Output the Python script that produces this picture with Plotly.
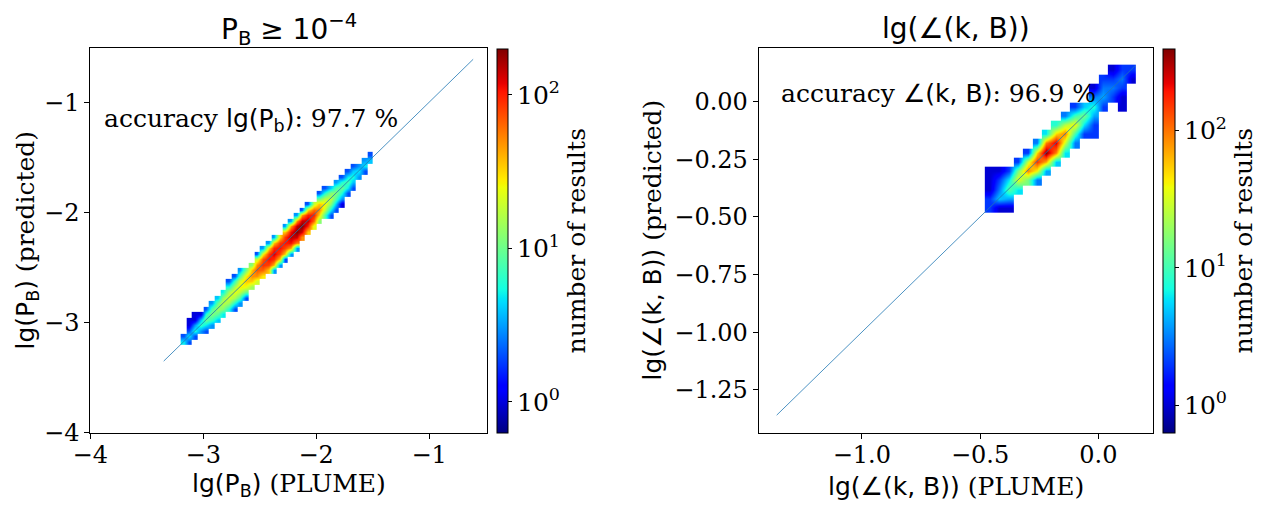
import numpy as np
import plotly.graph_objects as go

# P_B panel: 2d histogram.
# column centres (x bins, 0.05 wide) and counts in the bins at y offsets -3..+3 bins from the diagonal
pb_xc = [-3.175, -3.125, -3.075, -3.025, -2.975, -2.925, -2.875, -2.825, -2.775, -2.725,
         -2.675, -2.625, -2.575, -2.525, -2.475, -2.425, -2.375, -2.325, -2.275, -2.225,
         -2.175, -2.125, -2.075, -2.025, -1.975, -1.925, -1.875, -1.825, -1.775, -1.725,
         -1.675, -1.625, -1.575, -1.525]
pb_band = [
    [None, None, None, 5, 2, None, None],
    [None, None, 2, 5, 2, 1, 1],
    [None, None, 2, 6, 3, 1, 1],
    [None, None, 3, 7, 4, 1, None],
    [None, 2, 5, 10, 6, 2, None],
    [None, 3, 7, 12, 8, 3, None],
    [None, 4, 9, 15, 10, 4, None],
    [None, 5, 12, 18, 13, 5, None],
    [None, 6, 14, 22, 15, 6, 2],
    [2, 6, 15, 24, 16, 7, 2],
    [3, 8, 18, 28, 20, 8, 3],
    [2, 10, 24, 36, 26, 10, None],
    [None, 14, 35, 50, 36, 12, None],
    [None, 20, 50, 70, 50, 18, 2],
    [None, 28, 65, 90, 70, 25, 3],
    [None, 35, 80, 110, 85, 30, 3],
    [3, 40, 95, 130, 95, 35, 3],
    [3, 35, 80, 110, 85, 30, None],
    [2, 35, 80, 105, 85, 35, 3],
    [3, 45, 110, 150, 115, 45, 3],
    [3, 55, 140, 195, 145, 50, 3],
    [None, 50, 135, 200, 140, 45, 2],
    [None, 35, 100, 150, 100, 30, 2],
    [None, 22, 65, 100, 65, 18, None],
    [None, 12, 35, 55, 35, 10, 2],
    [None, 8, 18, 28, 18, 6, 2],
    [2, 5, 12, 18, 12, 4, None],
    [2, 4, 8, 12, 8, 3, None],
    [1, 3, 6, 10, 6, 2, None],
    [None, 2, 5, 8, 5, 2, None],
    [None, 2, 4, 6, 4, 2, None],
    [None, None, 3, 5, 3, None, None],
    [None, None, 2, 5, 3, None, None],
    [None, None, None, 4, 2, None, None],
]
pb_offsets = [-3, -2, -1, 0, 1, 2, 3]
pb_binw = 0.05

# angle panel: cells (bin centre x, bin centre y, number of results)
ang_x = [-0.46, -0.46, -0.46, -0.46, -0.46,
         -0.42, -0.42, -0.42, -0.42, -0.42,
         -0.38, -0.38, -0.38, -0.38, -0.38,
         -0.34, -0.34, -0.34, -0.34,
         -0.30, -0.30, -0.30, -0.30,
         -0.26, -0.26, -0.26, -0.26, -0.26,
         -0.22, -0.22, -0.22, -0.22, -0.22,
         -0.18, -0.18, -0.18, -0.18, -0.18,
         -0.14, -0.14, -0.14, -0.14, -0.14,
         -0.10, -0.10, -0.10, -0.10, -0.10,
         -0.06, -0.06, -0.06, -0.06,
         -0.02, -0.02, -0.02, -0.02, -0.02, -0.02,
         0.02, 0.02, 0.02, 0.02,
         0.06, 0.06, 0.06, 0.06,
         0.10, 0.10, 0.10, 0.10, 0.10,
         0.14, 0.14]
ang_y = [-0.46, -0.42, -0.38, -0.34, -0.30,
         -0.46, -0.42, -0.38, -0.34, -0.30,
         -0.46, -0.42, -0.38, -0.34, -0.30,
         -0.38, -0.34, -0.30, -0.26,
         -0.34, -0.30, -0.26, -0.22,
         -0.34, -0.30, -0.26, -0.22, -0.18,
         -0.30, -0.26, -0.22, -0.18, -0.14,
         -0.26, -0.22, -0.18, -0.14, -0.10,
         -0.22, -0.18, -0.14, -0.10, -0.06,
         -0.18, -0.14, -0.10, -0.06, -0.02,
         -0.14, -0.10, -0.06, -0.02,
         -0.14, -0.10, -0.06, -0.02, 0.02, 0.06,
         -0.02, 0.02, 0.06, 0.10,
         0.02, 0.06, 0.10, 0.14,
         -0.02, 0.02, 0.06, 0.10, 0.14,
         0.10, 0.14]
ang_n = [2, 2, 1, 1, 1,
         1, 5, 3, 2, 1,
         1, 4, 12, 6, 2,
         6, 35, 15, 2,
         15, 90, 30, 2,
         3, 40, 160, 50, 3,
         4, 70, 380, 90, 6,
         5, 90, 250, 50, 8,
         6, 30, 90, 25, 3,
         3, 10, 40, 10, 2,
         2, 6, 15, 5,
         2, 2, 4, 8, 3, 1,
         2, 4, 3, 2,
         2, 3, 2, 1,
         1, 1, 2, 3, 2,
         1, 2]

# identity line ends
pb_line = [-3.35, -0.61]
ang_line = [-1.36, 0.155]

pb_ticks = [-4, -3, -2, -1]
ang_xticks = [-1.0, -0.5, 0.0]
ang_yticks = [0.0, -0.25, -0.5, -0.75, -1.0, -1.25]
cb_ticks = [0, 1, 2]
cb_labels = ["10<sup>0</sup>", "10<sup>1</sup>", "10<sup>2</sup>"]

# the page body has an 8px margin, so the figure is shifted by that much
OFF = 8
W, H = 1267 - OFF, 509 - 2 * OFF
SERIF = "DejaVu Serif"
SANS = "DejaVu Sans"

# matplotlib "jet"
jet = [
    [0.0, "rgb(0,0,128)"], [0.11, "rgb(0,0,255)"], [0.125, "rgb(0,0,255)"],
    [0.34, "rgb(0,219,255)"], [0.35, "rgb(0,229,247)"], [0.375, "rgb(20,255,226)"],
    [0.5, "rgb(124,255,124)"], [0.64, "rgb(239,255,8)"], [0.65, "rgb(247,245,0)"],
    [0.66, "rgb(255,236,0)"], [0.89, "rgb(255,19,0)"], [0.91, "rgb(232,0,0)"],
    [1.0, "rgb(128,0,0)"],
]

# unpack the band table into histogram cells
pb_x, pb_y, pb_n = [], [], []
for xc, row in zip(pb_xc, pb_band):
    for d, n in zip(pb_offsets, row):
        if n is None:
            continue
        pb_x.append(xc)
        pb_y.append(round(xc + d * pb_binw, 3))
        pb_n.append(n)


def px(x):
    return (x - OFF) / W


def py(y):
    return 1 - (y - OFF) / H


def cbar(x0, width):
    return dict(
        x=px(x0), xanchor="left", y=py(432.7), yanchor="bottom",
        len=(432.7 - 48.3) / H, lenmode="fraction",
        thickness=width, thicknessmode="pixels",
        xpad=0, ypad=0, outlinecolor="black", outlinewidth=1,
        tickvals=cb_ticks, ticktext=cb_labels,
        ticks="outside", ticklen=4, tickcolor="black",
        tickfont=dict(family=SERIF, size=25, color="black"),
        title=dict(text="number of results", side="right",
                   font=dict(family=SERIF, size=25, color="black")),
    )


fig = go.Figure()

fig.add_trace(go.Heatmap(
    x=pb_x, y=pb_y, z=np.log10(pb_n), zsmooth="best", connectgaps=False,
    colorscale=jet, zmin=-0.2, zmax=2.3, colorbar=cbar(496.7, 11),
    xaxis="x", yaxis="y", hoverinfo="skip",
))
fig.add_trace(go.Scatter(
    x=pb_line, y=pb_line, mode="lines", line=dict(color="#1f77b4", width=0.8),
    xaxis="x", yaxis="y", showlegend=False,
))
fig.add_trace(go.Heatmap(
    x=ang_x, y=ang_y, z=np.log10(ang_n), zsmooth="best", connectgaps=False,
    colorscale=jet, zmin=-0.2, zmax=2.594, colorbar=cbar(1163, 12),
    xaxis="x2", yaxis="y2", hoverinfo="skip",
))
fig.add_trace(go.Scatter(
    x=ang_line, y=ang_line, mode="lines", line=dict(color="#1f77b4", width=0.8),
    xaxis="x2", yaxis="y2", showlegend=False,
))

axis_style = dict(
    showline=True, mirror=True, linecolor="black", linewidth=1, automargin=False,
    ticks="outside", ticklen=5, tickcolor="black", showgrid=False, zeroline=False,
    tickfont=dict(family=SERIF, size=24, color="black"),
)
xaxis_style = dict(axis_style, ticklabelstandoff=-5)

fig.update_layout(
    width=W, height=H, margin=dict(l=0, r=0, t=0, b=0, autoexpand=False),
    paper_bgcolor="white", plot_bgcolor="white", showlegend=False,
    xaxis=dict(domain=[px(90.3), px(486.7)], range=[-4, -0.49], tickvals=pb_ticks,
               anchor="y", **xaxis_style),
    yaxis=dict(domain=[py(432.7), py(48.3)], range=[-4, -0.51], tickvals=pb_ticks,
               anchor="x", **axis_style),
    xaxis2=dict(domain=[px(758.7), px(1153)], range=[-1.436, 0.231], tickvals=ang_xticks,
                tickformat=".1f", anchor="y2", **xaxis_style),
    yaxis2=dict(domain=[py(432.7), py(48.3)], range=[-1.436, 0.231], tickvals=ang_yticks,
                tickformat=".2f", anchor="x2", **axis_style),
)

serif = "<span style='font-family:DejaVu Serif'>%s</span>"
texts = [
    # titles
    dict(text="P<sub>B</sub> ≥ 10<sup>−4</sup>", x=px(288.5), y=py(30), size=28, angle=0),
    dict(text="lg(∠(k, B))", x=px(956), y=py(28), size=28, angle=0),
    # axis labels
    dict(text="lg(P<sub>B</sub>) " + serif % "(PLUME)", x=px(288.5), y=py(485), size=25, angle=0),
    dict(text="lg(P<sub>B</sub>) " + serif % "(predicted)", x=px(27), y=py(240.5), size=25, angle=-90),
    dict(text="lg(∠(k, B)) " + serif % "(PLUME)", x=px(956), y=py(486), size=25, angle=0),
    dict(text="lg(∠(k, B)) " + serif % "(predicted)", x=px(652), y=py(240.5), size=25, angle=-90),
]
for t in texts:
    fig.add_annotation(
        text=t["text"], x=t["x"], y=t["y"], xref="paper", yref="paper",
        xanchor="center", yanchor="middle", showarrow=False, textangle=t["angle"],
        font=dict(family=SANS, size=t["size"], color="black"),
    )

# accuracy notes
fig.add_annotation(
    text=serif % "accuracy " + "lg(P<sub>b</sub>)" + serif % ": 97.7 %",
    x=-3.9, y=-1.16, xref="x", yref="y", xanchor="left", yanchor="middle",
    showarrow=False, font=dict(family=SANS, size=25, color="black"),
)
fig.add_annotation(
    text=serif % "accuracy " + "∠(k, B)" + serif % ": 96.9 %",
    x=-1.35, y=0.035, xref="x2", yref="y2", xanchor="left", yanchor="middle",
    showarrow=False, font=dict(family=SANS, size=25, color="black"),
)

fig.write_html("out.html")
